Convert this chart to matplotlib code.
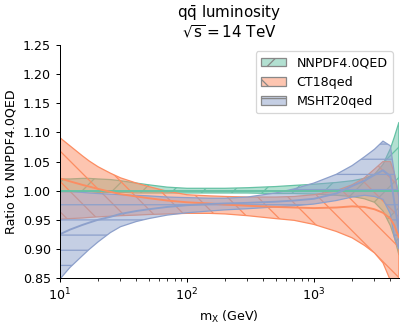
import matplotlib
matplotlib.use('Agg')
import matplotlib.pyplot as plt
import numpy as np
from matplotlib.patches import Patch

plt.rcParams['mathtext.default'] = 'regular'
plt.rc('font', size=10)

# invariant mass grid (GeV)
mx = [10, 12, 15, 17, 20, 25, 30, 40, 50, 70, 100, 150, 200, 300, 500, 700, 1000,
      1500, 2000, 2500, 3000, 3500, 4000, 4300, 4667]

# NNPDF4.0QED (ratio to itself)
nn_c = [1.0] * len(mx)
nn_up = [1.020, 1.020, 1.021, 1.021, 1.020, 1.019, 1.017, 1.013, 1.010, 1.006, 1.004,
         1.004, 1.004, 1.005, 1.007, 1.009, 1.011, 1.014, 1.017, 1.021, 1.028, 1.045,
         1.072, 1.092, 1.117]
nn_lo = [0.998, 0.998, 0.998, 0.998, 0.997, 0.997, 0.997, 0.996, 0.996, 0.996, 0.996,
         0.996, 0.996, 0.996, 0.995, 0.995, 0.994, 0.992, 0.990, 0.986, 0.980, 0.965,
         0.940, 0.920, 0.890]

# CT18qed
ct_c = [1.021, 1.016, 1.010, 1.007, 1.003, 0.998, 0.994, 0.990, 0.987, 0.983, 0.980,
        0.978, 0.976, 0.974, 0.972, 0.971, 0.970, 0.971, 0.973, 0.972, 0.968, 0.962,
        0.952, 0.940, 0.920]
ct_up = [1.091, 1.077, 1.060, 1.051, 1.041, 1.030, 1.022, 1.013, 1.007, 0.999, 0.993,
         0.991, 0.990, 0.989, 0.989, 0.990, 0.993, 1.000, 1.010, 1.022, 1.037, 1.050,
         1.050, 1.030, 0.990]
ct_lo = [0.951, 0.952, 0.953, 0.954, 0.955, 0.956, 0.957, 0.958, 0.959, 0.960, 0.961,
         0.961, 0.960, 0.957, 0.952, 0.949, 0.942, 0.930, 0.919, 0.906, 0.893, 0.876,
         0.846, 0.820, 0.780]

# MSHT20qed
ms_c = [0.925, 0.933, 0.941, 0.945, 0.950, 0.955, 0.960, 0.965, 0.968, 0.972, 0.975,
        0.977, 0.978, 0.979, 0.981, 0.983, 0.986, 0.995, 1.008, 1.017, 1.027, 1.035,
        1.025, 0.980, 0.930]
ms_up = [1.000, 0.999, 0.997, 0.996, 0.995, 0.994, 0.993, 0.992, 0.991, 0.989, 0.988,
         0.987, 0.987, 0.989, 0.996, 1.003, 1.013, 1.028, 1.043, 1.058, 1.071, 1.085,
         1.077, 1.030, 0.990]
ms_lo = [0.848, 0.868, 0.888, 0.899, 0.912, 0.928, 0.938, 0.947, 0.952, 0.958, 0.962,
         0.965, 0.967, 0.969, 0.972, 0.974, 0.977, 0.983, 0.989, 0.992, 0.990, 0.985,
         0.960, 0.920, 0.900]

labels = ['NNPDF4.0QED', 'CT18qed', 'MSHT20qed']
colors = ['#66c2a5', '#fc8d62', '#8da0cb']
hatches = ['/', '\\', '-']

DPI = 91
fig, ax = plt.subplots()
fig.set_size_inches(407 / DPI, 324 / DPI)
fig.subplots_adjust(left=0.147, right=0.980, bottom=0.142, top=0.861)

sets = [(nn_c, nn_up, nn_lo), (ct_c, ct_up, ct_lo), (ms_c, ms_up, ms_lo)]
handles = []
for (c, up, lo), col, h, lab in zip(sets, colors, hatches, labels):
    fc = matplotlib.colors.to_rgba(col, 0.5)
    ax.fill_between(mx, lo, up, facecolor=fc, edgecolor=col, hatch=h, linewidth=1.0)
    ax.plot(mx, c, color=col, linewidth=1.5)
    handles.append(Patch(facecolor=fc, edgecolor='#888888', hatch=h, label=lab))

ax.set_xscale('log')
ax.set_xlim(10, 4667)
ax.set_ylim(0.85, 1.25)
ax.set_yticks(np.arange(0.85, 1.2501, 0.05))
ax.spines['right'].set_visible(False)
ax.spines['top'].set_visible(False)
ax.set_xlabel('$m_X$ (GeV)')
ax.set_ylabel('Ratio to NNPDF4.0QED')
ax.set_title('$q\\bar{q}$ luminosity\n$\\sqrt{s}=14$ TeV', fontsize=12, linespacing=1.0)
ax.legend(handles=handles, loc='upper right')

plt.savefig('out.png', dpi=DPI)
